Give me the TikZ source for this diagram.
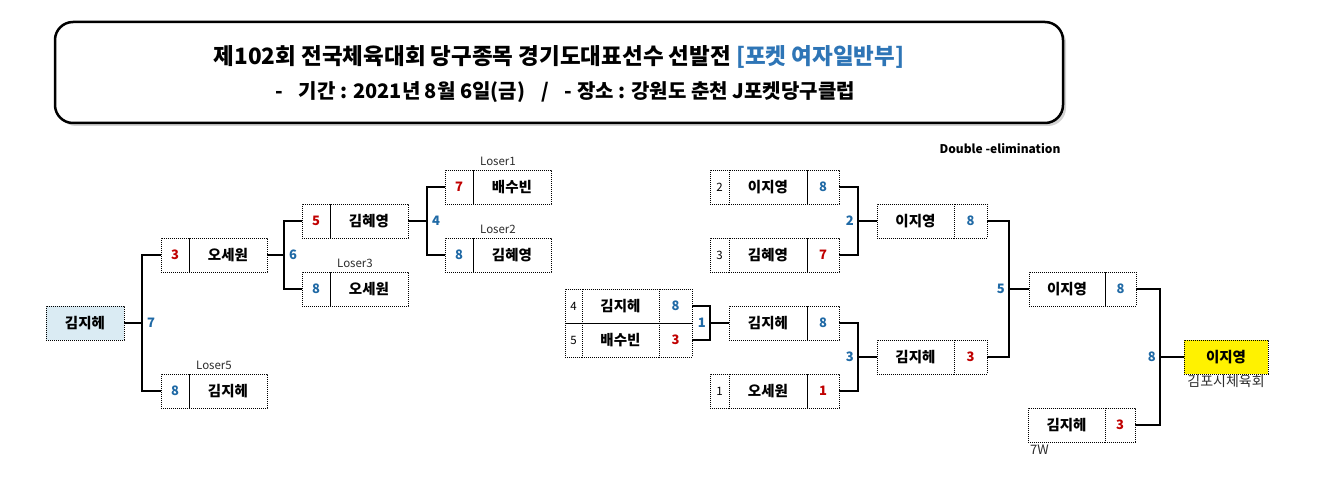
\documentclass[tikz,border=0pt]{standalone}
\usepackage{fontspec}
\setmainfont{Noto Sans CJK KR}
\usetikzlibrary{positioning, calc, shadows}

\definecolor{numblue}{RGB}{31,105,165}
\definecolor{numred}{RGB}{192,0,0}
\definecolor{titleblue}{RGB}{46,117,182}
\definecolor{paleblue}{RGB}{218,235,243}
\definecolor{tagtext}{RGB}{45,45,45}

\begin{document}
\begin{tikzpicture}[
x=1pt, y=-1pt,
node distance=0pt,
cell/.style={
draw,
rectangle,
line width=0.8pt,
dash pattern=on 0.8pt off 1.2pt,
minimum height=34pt,
inner sep=0pt,
outer sep=0pt,
anchor=west
},
seed/.style={cell, minimum width=19pt, font=\fontsize{11.5}{13}\selectfont},
player/.style={cell, minimum width=78pt, font=\fontsize{14.5}{17}\selectfont\bfseries},
win/.style={cell, minimum width=28pt, text=numblue, font=\fontsize{13}{15}\selectfont\bfseries},
lose/.style={win, text=numred},
rwin/.style={win, minimum width=32pt},
rlose/.style={lose, minimum width=32pt},
num/.style={text=numblue, font=\fontsize{13}{15}\selectfont\bfseries, inner sep=1pt},
tag/.style={text=tagtext, font=\fontsize{11.5}{13}\selectfont, inner sep=1pt},
link/.style={line width=1.1pt}
]
\useasboundingbox (0,0) rectangle (1339,494);

% banner
\node[draw, line width=2.5pt, rounded corners=18pt, fill=white,
  minimum width=1008pt, minimum height=101pt,
  drop shadow={shadow xshift=3pt, shadow yshift=-3pt, opacity=0.35}] (banner) at (559,72.5) {};
\node[font=\fontsize{22.5}{26}\selectfont\bfseries] (title) at (559,57)
  {제102회 전국체육대회 당구종목 경기도대표선수 선발전 \textcolor{titleblue}{[포켓 여자일반부]}};
\node[font=\fontsize{20}{24}\selectfont\bfseries] (info) at (565,92)
  {-\hspace{16pt}기간 : 2021년 8월 6일(금)\hspace{16pt}/\hspace{16pt}- 장소 : 강원도 춘천 J포켓당구클럽};
\node[font=\fontsize{12}{14}\selectfont\bfseries] (kind) at (1000,149) {Double -elimination};

% loser bracket
\node[player, fill=paleblue] (kimL) at (46,323) {김지헤};

\node[lose] (osw3s) at (161,255) {3};
\node[player, right=of osw3s] (osw3n) {오세원};
\node[win] (kjh8s) at (161,391) {8};
\node[player, right=of kjh8s] (kjh8n) {김지헤};

\node[lose] (khy5s) at (302,221) {5};
\node[player, right=of khy5s] (khy5n) {김혜영};
\node[win] (osw8s) at (302,289) {8};
\node[player, right=of osw8s] (osw8n) {오세원};

\node[lose] (bsb7s) at (445,187) {7};
\node[player, right=of bsb7s] (bsb7n) {배수빈};
\node[win] (khy8s) at (445,255) {8};
\node[player, right=of khy8s] (khy8n) {김혜영};

\node[tag, above=3pt] (lose5) at ($(kjh8s.north west)!0.5!(kjh8n.north east)$) {Loser5};
\node[tag, above=3pt] (lose3) at ($(osw8s.north west)!0.5!(osw8n.north east)$) {Loser3};
\node[tag, above=3pt] (lose1) at ($(bsb7s.north west)!0.5!(bsb7n.north east)$) {Loser1};
\node[tag, above=3pt] (lose2) at ($(khy8s.north west)!0.5!(khy8n.north east)$) {Loser2};

\coordinate (j7) at (142,323);
\coordinate (j6) at (284,255);
\coordinate (j4) at (427,221);
\draw[link] (kimL.east) -- (j7);
\draw[link] (osw3s.west) -| (j7) |- (kjh8s.west);
\draw[link] (osw3n.east) -- (j6);
\draw[link] (khy5s.west) -| (j6) |- (osw8s.west);
\draw[link] (khy5n.east) -- (j4);
\draw[link] (bsb7s.west) -| (j4) |- (khy8s.west);
\node[num, right=4pt of j7] (n7) {7};
\node[num, right=4pt of j6] (n6) {6};
\node[num, right=4pt of j4] (n4) {4};

% winner bracket
\node[seed] (p2) at (710,187) {2};
\node[player, right=of p2] (lee2n) {이지영};
\node[rwin, right=of lee2n] (lee2c) {8};
\node[seed] (p3) at (710,255) {3};
\node[player, right=of p3] (khy3n) {김혜영};
\node[rlose, right=of khy3n] (khy3c) {7};

\node[seed, minimum width=17pt] (p4) at (565,306) {4};
\node[player, minimum width=77pt, right=of p4] (kjh4n) {김지헤};
\node[rwin, minimum width=33pt, right=of kjh4n] (kjh4c) {8};
\node[seed, minimum width=17pt] (p5) at (565,340) {5};
\node[player, minimum width=77pt, right=of p5] (bsb5n) {배수빈};
\node[rlose, minimum width=33pt, right=of bsb5n] (bsb5c) {3};

\node[player] (kjhAn) at (729,323) {김지헤};
\node[rwin, right=of kjhAn] (kjhAc) {8};
\node[seed] (p1) at (710,391) {1};
\node[player, right=of p1] (osw1n) {오세원};
\node[rlose, right=of osw1n] (osw1c) {1};

\node[player, minimum width=77pt] (leeBn) at (877,221) {이지영};
\node[rwin, minimum width=33pt, right=of leeBn] (leeBc) {8};
\node[player, minimum width=77pt] (kjhBn) at (877,357) {김지헤};
\node[rlose, minimum width=33pt, right=of kjhBn] (kjhBc) {3};

\node[player, minimum width=76pt] (leeCn) at (1029,289) {이지영};
\node[rwin, minimum width=31pt, right=of leeCn] (leeCc) {8};
\node[player, minimum width=77pt] (kjhCn) at (1028,425) {김지헤};
\node[rlose, minimum width=30pt, right=of kjhCn] (kjhCc) {3};
\node[tag, font=\fontsize{13}{15}\selectfont, below right=2pt and 1pt of kjhCn.south west] (w7) {7W};

\node[player, minimum width=84pt, fill=yellow] (champ) at (1184,357) {이지영};
\node[tag, font=\fontsize{14}{16}\selectfont, below=0pt of champ] (club) {김포시체육회};

\coordinate (ja) at (710,323);
\coordinate (jb) at (858,221);
\coordinate (jc) at (858,357);
\coordinate (jd) at (1009,289);
\coordinate (je) at (1160,357);
\draw[link] (kjh4c.east) -| (ja) |- (bsb5c.east);
\draw[link] (ja) -- (kjhAn.west);
\draw[link] (lee2c.east) -| (jb) |- (khy3c.east);
\draw[link] (jb) -- (leeBn.west);
\draw[link] (kjhAc.east) -| (jc) |- (osw1c.east);
\draw[link] (jc) -- (kjhBn.west);
\draw[link] (leeBc.east) -| (jd) |- (kjhBc.east);
\draw[link] (jd) -- (leeCn.west);
\draw[link] (leeCc.east) -| (je) |- (kjhCc.east);
\draw[link] (je) -- (champ.west);
\node[num, left=3pt of ja] (n1) {1};
\node[num, left=3pt of jb] (n2) {2};
\node[num, left=3pt of jc] (n3) {3};
\node[num, left=3pt of jd] (n5) {5};
\node[num, left=3pt of je] (n8) {8};

\end{tikzpicture}
\end{document}
